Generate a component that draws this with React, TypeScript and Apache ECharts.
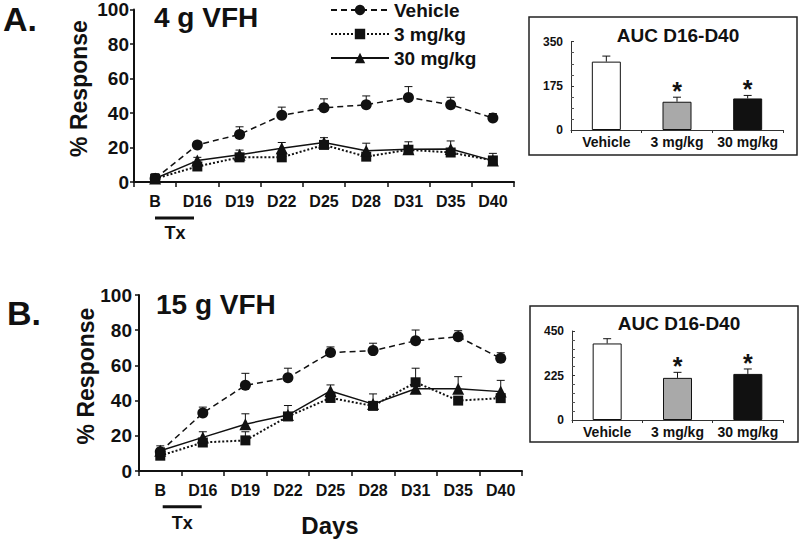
import React, { useEffect, useRef } from "react";
import * as echarts from "echarts";

const days = ["B", "D16", "D19", "D22", "D25", "D28", "D31", "D35", "D40"];
const seriesNames = ["Vehicle", "3 mg/kg", "30 mg/kg"];

// Panel A (4 g VFH)
const vehA = [2, 21.5, 27.6, 38.7, 43, 44.8, 49, 44.8, 37.1];
const vehAErr = [0, 2, 4.4, 4.7, 5.2, 5.1, 6.3, 4.3, 2.6];
const lowA = [1.9, 9, 14.3, 14.3, 21.5, 14.7, 18.7, 17.1, 12.5];
const lowAErr = [0, 0, 0, 0, 0, 0, 4.6, 0, 0];
const highA = [2, 12.4, 15.8, 19.6, 22.9, 18.1, 19, 19.1, 12.4];
const highAErr = [2.8, 1.9, 2.7, 3.3, 2.8, 4.4, 0, 4.7, 4.2];

// Panel B (15 g VFH)
const vehB = [11, 32.9, 48.7, 53, 67.3, 68.4, 74, 76.3, 64];
const vehBErr = [0, 3.4, 6.8, 5.4, 3.2, 4.2, 6.1, 3.4, 3.2];
const lowB = [8.7, 16.2, 17.4, 31, 41.5, 37, 50.4, 40, 41.4];
const lowBErr = [0, 0, 4.9, 0, 0, 0, 8, 0, 0];
const highB = [11.5, 19.1, 26.6, 31.8, 45.5, 38, 46.7, 46.7, 45.1];
const highBErr = [2.8, 3.2, 5.9, 5.4, 3.4, 5.8, 0, 6.9, 6.4];

// Insets: AUC D16-D40
const aucCats = ["Vehicle", "3 mg/kg", "30 mg/kg"];
const aucA = [271, 112, 125];
const aucAErr = [22, 18, 12];
const aucB = [387, 213, 233];
const aucBErr = [24, 28, 25];
const aucSig = [false, true, true];
const aucAMax = 350;
const aucBMax = 450;

const barColors = ["#ffffff", "#a9a9a9", "#111111"];
const INK = "#111111";
const FONT = "Arial, 'Liberation Sans', sans-serif";

function errRender(withStar: boolean) {
  return (params: any, api: any) => {
    const x = api.value(0);
    const v = api.value(1);
    const e = api.value(2);
    const s = api.value(3);
    const children: any[] = [];
    const p0 = api.coord([x, v]);
    const p1 = api.coord([x, v + e]);
    if (e > 0) {
      children.push({
        type: "line",
        shape: { x1: p0[0], y1: p0[1], x2: p1[0], y2: p1[1] },
        style: { stroke: INK, lineWidth: 1 },
      });
      children.push({
        type: "line",
        shape: { x1: p1[0] - 4, y1: p1[1], x2: p1[0] + 4, y2: p1[1] },
        style: { stroke: INK, lineWidth: 1 },
      });
    }
    if (withStar && s) {
      children.push({
        type: "text",
        style: {
          text: "*",
          x: p1[0],
          y: p1[1] - 6,
          align: "center",
          verticalAlign: "middle",
          font: `bold 25px ${FONT}`,
          fill: INK,
        },
      });
    }
    return { type: "group", children };
  };
}

function lineSeries(name: string, data: number[], idx: number) {
  const style: any = {
    Vehicle: { symbol: "circle", symbolSize: 11, type: [6, 4], width: 1.5 },
    "3 mg/kg": { symbol: "rect", symbolSize: 10, type: [2, 2], width: 2 },
    "30 mg/kg": { symbol: "triangle", symbolSize: 12, type: "solid", width: 1.5 },
  }[name];
  return {
    type: "line",
    name,
    xAxisIndex: idx,
    yAxisIndex: idx,
    data,
    symbol: style.symbol,
    symbolSize: style.symbolSize,
    showSymbol: true,
    z: 3,
    itemStyle: { color: INK },
    lineStyle: { color: INK, width: style.width, type: style.type },
  };
}

function errSeries(vals: number[], errs: number[], idx: number) {
  return {
    type: "custom",
    xAxisIndex: idx,
    yAxisIndex: idx,
    z: 2,
    silent: true,
    renderItem: errRender(false),
    data: vals.map((v, i) => [i, v, errs[i], 0]),
  };
}

function mainX(idx: number) {
  return {
    type: "category",
    gridIndex: idx,
    data: days,
    boundaryGap: true,
    axisLine: { lineStyle: { color: INK, width: 2 } },
    axisTick: { show: true, length: 5, lineStyle: { color: INK, width: 1.5 } },
    axisLabel: { interval: 0, color: INK, fontSize: 16, fontWeight: "bold", fontFamily: FONT, margin: 11 },
    splitLine: { show: false },
  };
}

function mainY(idx: number, margin: number) {
  return {
    type: "value",
    gridIndex: idx,
    min: 0,
    max: 100,
    interval: 20,
    axisLine: { show: true, lineStyle: { color: INK, width: 2 } },
    axisTick: { show: true, length: 4, lineStyle: { color: INK, width: 1.5 } },
    axisLabel: { color: INK, fontSize: 19, fontWeight: "bold", fontFamily: FONT, margin },
    splitLine: { show: false },
  };
}

function insetX(idx: number) {
  return {
    type: "category",
    gridIndex: idx,
    data: aucCats,
    axisLine: { lineStyle: { color: "#333", width: 1 } },
    axisTick: { show: true, length: 3, lineStyle: { color: "#333" } },
    axisLabel: { interval: 0, color: INK, fontSize: 14, fontWeight: "bold", fontFamily: FONT, margin: 5 },
    splitLine: { show: false },
  };
}

function insetY(idx: number, max: number, split: number) {
  return {
    type: "value",
    gridIndex: idx,
    min: 0,
    max,
    interval: max / 2,
    axisLine: { show: true, lineStyle: { color: "#333", width: 1 } },
    axisTick: { show: true, inside: true, length: 3, lineStyle: { color: "#333" } },
    minorTick: { show: true, splitNumber: split, length: 3, lineStyle: { color: "#555" } },
    axisLabel: { color: INK, fontSize: 12, fontWeight: "bold", fontFamily: FONT, margin: 8 },
    splitLine: { show: false },
  };
}

function barSeries(vals: number[], idx: number) {
  return {
    type: "bar",
    xAxisIndex: idx,
    yAxisIndex: idx,
    barWidth: 29,
    z: 2,
    data: vals.map((v, i) => ({
      value: v,
      itemStyle: { color: barColors[i], borderColor: INK, borderWidth: 1 },
    })),
  };
}

function insetErr(vals: number[], errs: number[], idx: number) {
  return {
    type: "custom",
    xAxisIndex: idx,
    yAxisIndex: idx,
    z: 3,
    silent: true,
    renderItem: errRender(true),
    data: vals.map((v, i) => [i, v, errs[i], aucSig[i] ? 1 : 0]),
  };
}

function txt(text: string, x: number, y: number, size: number, extra: any = {}) {
  return {
    type: "text",
    x,
    y,
    rotation: extra.rotation || 0,
    style: {
      text,
      x: 0,
      y: 0,
      align: extra.align || "left",
      verticalAlign: "middle",
      font: `bold ${size}px ${FONT}`,
      fill: INK,
    },
  };
}

export default function App() {
  const ref = useRef<HTMLDivElement>(null);
  useEffect(() => {
    document.body.style.margin = "0";
    if (!ref.current) return;
    const chart = echarts.init(ref.current, null, { renderer: "svg" });
    chart.setOption({
      animation: false,
      backgroundColor: "#ffffff",
      textStyle: { fontFamily: FONT },
      grid: [
        { left: 134, top: 8, width: 380, height: 174 },
        { left: 139, top: 295, width: 383, height: 176 },
        { left: 571, top: 41.7, width: 212, height: 88.3 },
        { left: 572, top: 331, width: 211, height: 89 },
      ],
      xAxis: [mainX(0), mainX(1), insetX(2), insetX(3)],
      yAxis: [mainY(0, 5), mainY(1, 7), insetY(2, aucAMax, 4), insetY(3, aucBMax, 5)],
      legend: {
        data: seriesNames,
        orient: "vertical",
        left: 330,
        top: 0,
        padding: 0,
        itemWidth: 58,
        itemHeight: 13,
        itemGap: 4,
        selectedMode: false,
        textStyle: { color: INK, fontSize: 19, fontWeight: "bold", fontFamily: FONT, lineHeight: 20 },
      },
      series: [
        errSeries(vehA, vehAErr, 0),
        errSeries(lowA, lowAErr, 0),
        errSeries(highA, highAErr, 0),
        lineSeries("Vehicle", vehA, 0),
        lineSeries("3 mg/kg", lowA, 0),
        lineSeries("30 mg/kg", highA, 0),
        errSeries(vehB, vehBErr, 1),
        errSeries(lowB, lowBErr, 1),
        errSeries(highB, highBErr, 1),
        lineSeries("Vehicle", vehB, 1),
        lineSeries("3 mg/kg", lowB, 1),
        lineSeries("30 mg/kg", highB, 1),
        barSeries(aucA, 2),
        insetErr(aucA, aucAErr, 2),
        barSeries(aucB, 3),
        insetErr(aucB, aucBErr, 3),
      ],
      graphic: [
        {
          type: "rect",
          shape: { x: 529, y: 17, width: 268, height: 138 },
          style: { fill: "none", stroke: "#222", lineWidth: 1.5 },
        },
        {
          type: "rect",
          shape: { x: 530, y: 306, width: 268, height: 136 },
          style: { fill: "none", stroke: "#222", lineWidth: 1.5 },
        },
        txt("AUC D16-D40", 678, 35, 19, { align: "center" }),
        txt("AUC D16-D40", 679, 323.7, 19, { align: "center" }),
        txt("A.", 3, 19, 34),
        txt("B.", 7, 312.5, 34),
        txt("4 g VFH", 154, 17.5, 28),
        txt("15 g VFH", 156, 304, 28),
        txt("% Response", 79, 88.5, 23, { align: "center", rotation: Math.PI / 2 }),
        txt("% Response", 86, 376, 23, { align: "center", rotation: Math.PI / 2 }),
        {
          type: "line",
          shape: { x1: 155, y1: 218, x2: 194, y2: 218 },
          style: { stroke: INK, lineWidth: 3 },
        },
        txt("Tx", 175, 233, 18, { align: "center" }),
        {
          type: "line",
          shape: { x1: 162.7, y1: 506.7, x2: 201.7, y2: 506.7 },
          style: { stroke: INK, lineWidth: 3 },
        },
        txt("Tx", 182.3, 523.3, 18, { align: "center" }),
        txt("Days", 330, 525.5, 24, { align: "center" }),
      ],
    });
    return () => chart.dispose();
  }, []);
  return <div ref={ref} style={{ width: 800, height: 539 }} />;
}
